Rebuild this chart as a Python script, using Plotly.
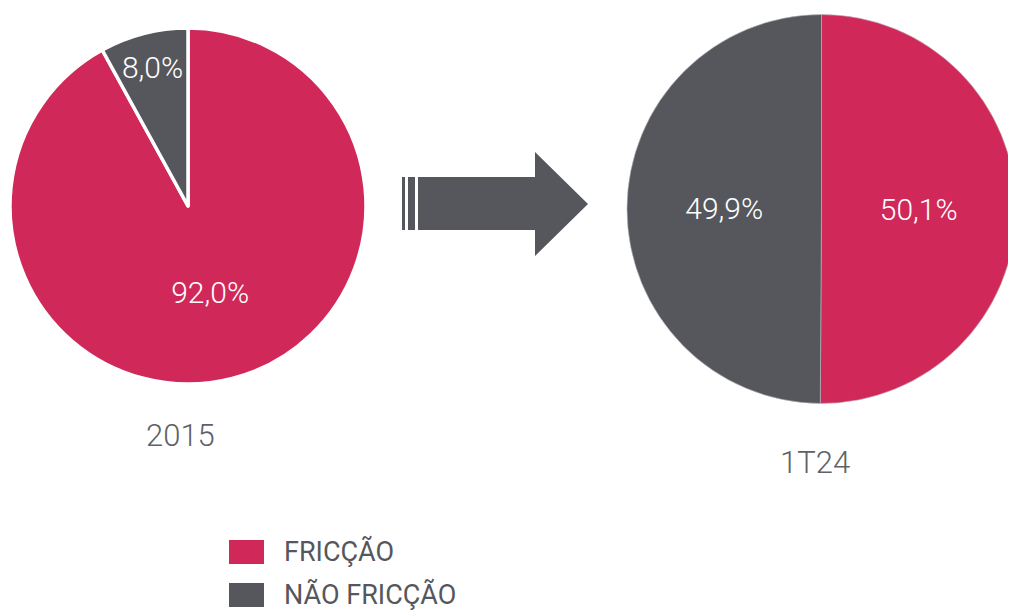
import plotly.graph_objects as go

# data
labels = ["FRICÇÃO", "NÃO FRICÇÃO"]
colors = ["#d1285a", "#55575d"]
vals_2015 = [92.0, 8.0]
vals_1t24 = [50.1, 49.9]
periods = ["2015", "1T24"]

# page has an 8px body margin, so the figure is 8px smaller than the window
OFF = 8
W, H = 1016 - OFF, 612 - OFF


def px_x(x):
    return (x - OFF) / W


def px_y(y):
    return 1 - (y - OFF) / H


fig = go.Figure()

fig.add_trace(go.Pie(
    labels=labels, values=vals_2015, sort=False, direction="clockwise",
    marker=dict(colors=colors, line=dict(color="white", width=3.5)),
    texttemplate="%{value:.1f}%", textposition="inside", insidetextorientation="horizontal",
    textfont=dict(family="Roboto", size=30, color="white", weight=300),
    domain=dict(x=[px_x(10), px_x(366)], y=[px_y(384), px_y(28)]),
    hoverinfo="label+percent", showlegend=False,
))

fig.add_trace(go.Pie(
    labels=labels, values=vals_1t24, sort=False, direction="clockwise",
    marker=dict(colors=colors, line=dict(color="#bbbbbb", width=0.6)),
    texttemplate="%{value:.1f}%", textposition="inside", insidetextorientation="horizontal",
    textfont=dict(family="Roboto", size=30, color="white", weight=300),
    domain=dict(x=[px_x(627), 1.0], y=[px_y(404), px_y(14)]),
    hoverinfo="label+percent", showlegend=False,
))

# period labels under each pie
for txt, (x, y) in zip(periods, [(180, 435), (815, 462)]):
    fig.add_annotation(x=px_x(x), y=px_y(y), xref="paper", yref="paper", text=txt,
                       xanchor="center", yanchor="middle", showarrow=False,
                       font=dict(family="Roboto", size=31, color="#606167", weight=300))

# arrow between pies
arrow = "M {} {} L {} {} L {} {} L {} {} L {} {} L {} {} L {} {} Z".format(
    px_x(418), px_y(177), px_x(535), px_y(177), px_x(535), px_y(152), px_x(588), px_y(204),
    px_x(535), px_y(256), px_x(535), px_y(230), px_x(418), px_y(230))
shapes = [dict(type="path", path=arrow, xref="paper", yref="paper",
               fillcolor="#55575d", line=dict(width=0))]
for x0, x1 in [(402, 405), (408, 415)]:
    shapes.append(dict(type="rect", xref="paper", yref="paper",
                       x0=px_x(x0), x1=px_x(x1), y0=px_y(230), y1=px_y(177),
                       fillcolor="#55575d", line=dict(width=0)))

# legend
for i, (name, c) in enumerate(zip(labels, colors)):
    yc = 552 + i * 43
    shapes.append(dict(type="rect", xref="paper", yref="paper",
                       x0=px_x(229), x1=px_x(264), y0=px_y(yc + 12), y1=px_y(yc - 12),
                       fillcolor=c, line=dict(width=0)))
    fig.add_annotation(x=px_x(282), y=px_y(yc - 1), xref="paper", yref="paper", text=name,
                       xanchor="left", yanchor="middle", showarrow=False,
                       font=dict(family="Roboto", size=27, color="#55575d"))

fig.update_layout(
    width=W, height=H, margin=dict(l=0, r=0, t=0, b=0),
    paper_bgcolor="white", plot_bgcolor="white",
    separators=",.", shapes=shapes,
)

fig.write_html("out.html")
